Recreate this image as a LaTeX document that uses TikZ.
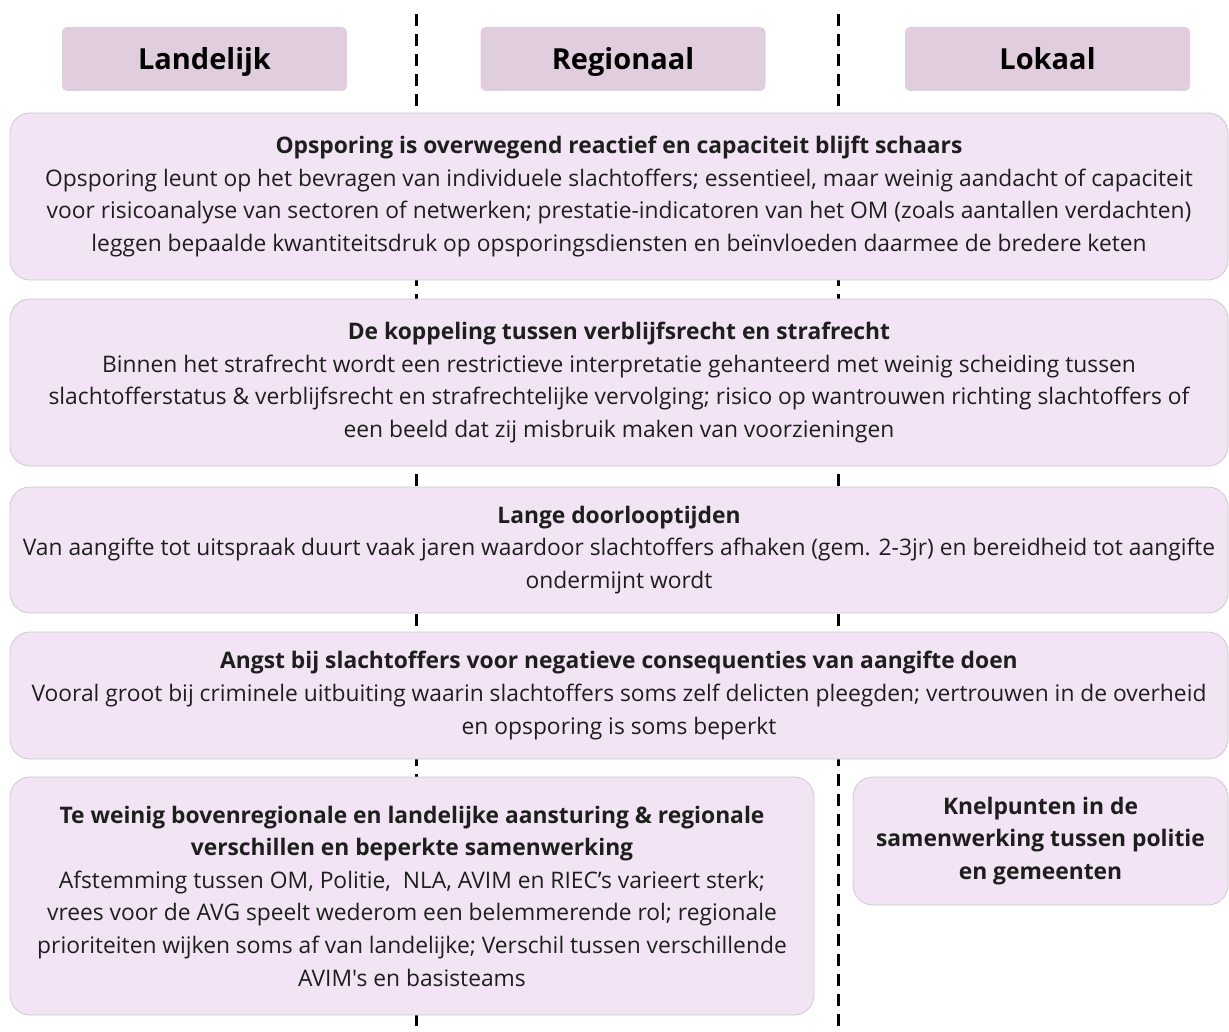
\documentclass[tikz,border=0pt]{standalone}
\usepackage{fontspec}
\setmainfont{Open Sans}[Ligatures=TeXOff]
\usepackage{tikz}
\usetikzlibrary{positioning}
\definecolor{headfill}{RGB}{224,205,221}
\definecolor{boxfill}{RGB}{242,228,244}
\definecolor{boxline}{RGB}{205,200,208}
\definecolor{txt}{RGB}{30,30,30}

\begin{document}
\begin{tikzpicture}[x=1pt, y=-1pt,
        header/.style={fill=headfill, rounded corners=5pt, minimum width=285pt, minimum height=64pt, text height=26pt, text depth=4pt, text=black, font=\fontsize{29}{34}\selectfont\bfseries},
        issue/.style={draw=boxline, line width=0.8pt, fill=boxfill, rounded corners=20pt, align=center, inner sep=0pt, text=txt, font=\fontsize{22.8}{32.6}\selectfont},
        divider/.style={line width=3pt, dash pattern=on 12pt off 8pt}]
            \useasboundingbox (0, 0) rectangle (1229, 1032);

            %% Dividers between the levels
            \coordinate (div1_top) at (416, 14);
            \coordinate (div1_bot) at (416, 1032);
            \coordinate (div2_top) at (838, 14);
            \coordinate (div2_bot) at (838, 1032);
            \draw[divider] (div1_top) -- (div1_bot);
            \draw[divider] (div2_top) -- (div2_bot);

            %% Headers
            \node[header] (landelijk) at (204.5, 59) {Landelijk};
            \node[header] (regionaal) at (623, 59) {Regionaal};
            \node[header] (lokaal) at (1047.5, 59) {Lokaal};

            %% Knelpunten over all levels
            \node[issue, minimum width=1218pt, minimum height=167pt] (opsporing) at (619, 196.5) {\textbf{Opsporing is overwegend reactief en capaciteit blijft schaars}\\
                Opsporing leunt op het bevragen van individuele slachtoffers; essentieel, maar weinig aandacht of capaciteit\\
                voor risicoanalyse van sectoren of netwerken; prestatie-indicatoren van het OM (zoals aantallen verdachten)\\
                leggen bepaalde kwantiteitsdruk op opsporingsdiensten en beïnvloeden daarmee de bredere keten};

            \node[issue, minimum width=1218pt, minimum height=167pt] (koppeling) at (619, 382.5) {\textbf{De koppeling tussen verblijfsrecht en strafrecht}\\
                Binnen het strafrecht wordt een restrictieve interpretatie gehanteerd met weinig scheiding tussen\\
                slachtofferstatus \& verblijfsrecht en strafrechtelijke vervolging; risico op wantrouwen richting slachtoffers of\\
                een beeld dat zij misbruik maken van voorzieningen};

            \node[issue, minimum width=1218pt, minimum height=126pt] (doorloop) at (619, 550) {\textbf{Lange doorlooptijden}\\
                Van aangifte tot uitspraak duurt vaak jaren waardoor slachtoffers afhaken (gem. 2-3jr) en bereidheid tot aangifte\\
                ondermijnt wordt};

            \node[issue, minimum width=1218pt, minimum height=127pt] (angst) at (619, 695.5) {\textbf{Angst bij slachtoffers voor negatieve consequenties van aangifte doen}\\
                Vooral groot bij criminele uitbuiting waarin slachtoffers soms zelf delicten pleegden; vertrouwen in de overheid\\
                en opsporing is soms beperkt};

            % Landelijk and regionaal only
            \node[issue, minimum width=804pt, minimum height=238pt] (aansturing) at (412, 896) {\textbf{Te weinig bovenregionale en landelijke aansturing \& regionale}\\
                \textbf{verschillen en beperkte samenwerking}\\
                Afstemming tussen OM, Politie,\ \ NLA, AVIM en RIEC’s varieert sterk;\\
                vrees voor de AVG speelt wederom een belemmerende rol; regionale\\
                prioriteiten wijken soms af van landelijke; Verschil tussen verschillende\\
                AVIM's en basisteams};

            % Lokaal only
            \node[issue, minimum width=375pt, minimum height=128pt, font=\fontsize{22.8}{32.6}\selectfont\bfseries] (knelpunten) at (1040.5, 841) {Knelpunten in de\\
                samenwerking tussen politie\\
                en gemeenten};

        \end{tikzpicture}
\end{document}
